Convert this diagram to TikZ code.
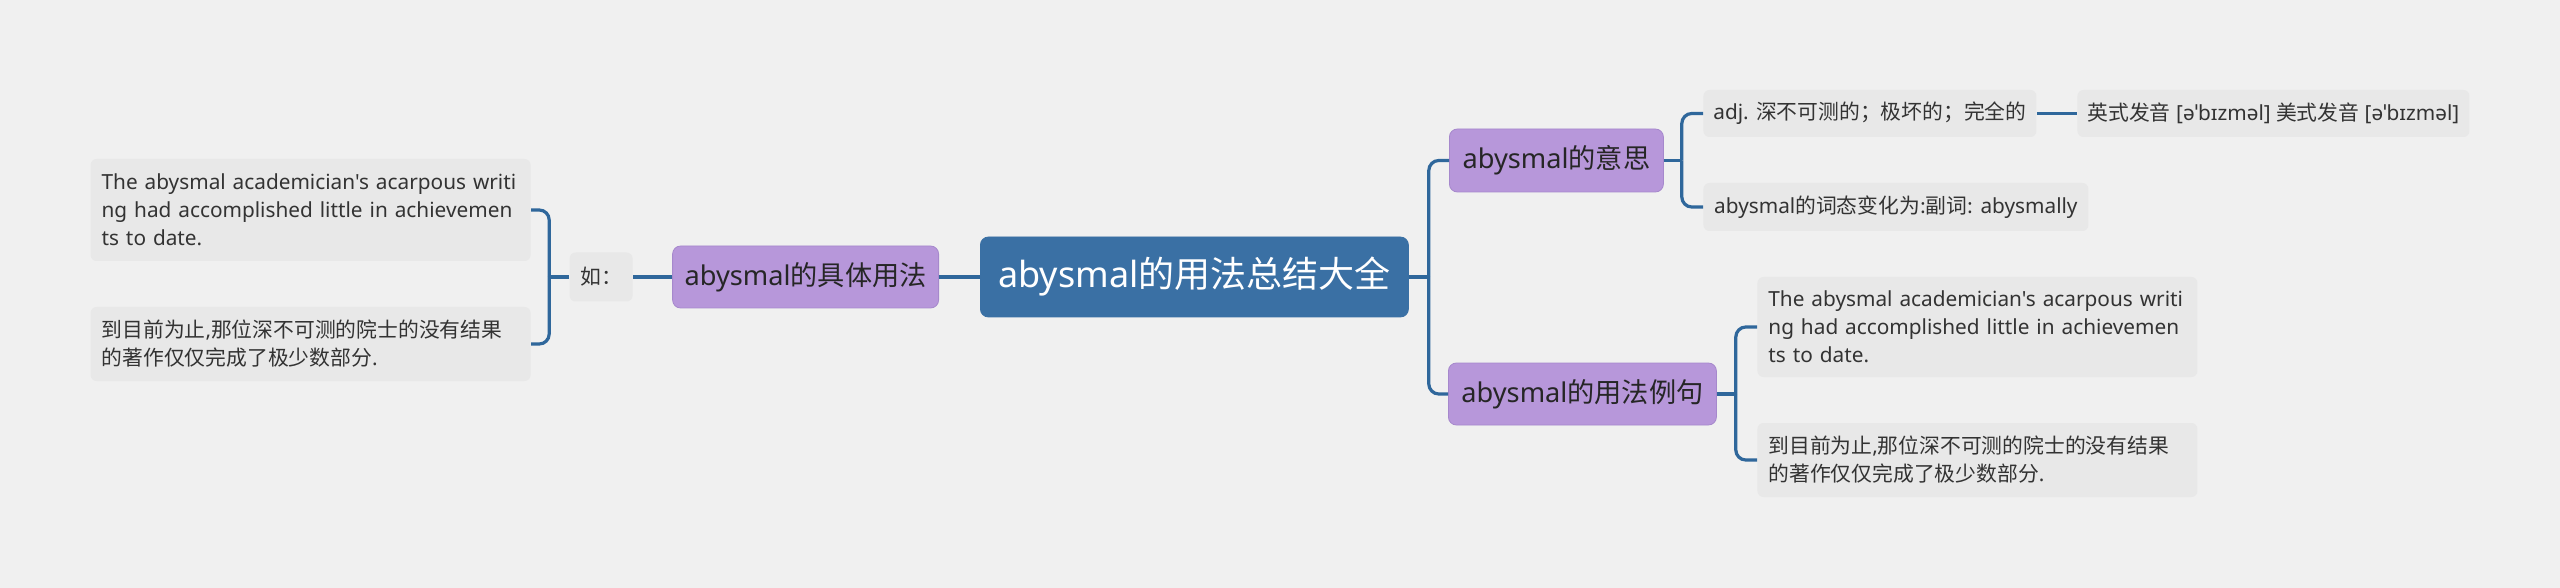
\documentclass[tikz,border=0pt]{standalone}
\usepackage{fontspec}
\setmainfont{Noto Sans}[Ligatures=TeXOff]
\newfontfamily\cjk{Noto Sans CJK SC}
\usetikzlibrary{positioning}
\definecolor{bgcol}{HTML}{F0F0F0}
\definecolor{rootcol}{HTML}{3A70A4}
\definecolor{linkcol}{HTML}{2F679B}
\definecolor{subcol}{HTML}{B797DA}
\definecolor{subline}{HTML}{A688CC}
\definecolor{leafcol}{HTML}{E8E8E8}
\tikzset{
topic/.style = {inner sep=0pt, text centered, anchor=west},
topic_r/.style = {topic, rectangle, rounded corners=4pt, fill=rootcol, draw=rootcol, text=white, font=\fontsize{18}{22}\selectfont},% sujet central
topic_m/.style = {topic, rectangle, rounded corners=4pt, fill=subcol, draw=subline, text=black!85, font=\fontsize{13.6}{16}\selectfont},% sous-sujet violet
topic_l/.style = {topic, rectangle, rounded corners=3pt, fill=leafcol, text=black!80, font=\fontsize{10.4}{14}\selectfont},% feuille grise
topic_t/.style = {topic_l, align=left, text width=209pt, inner xsep=5.5pt},% feuille en plusieurs lignes
link/.style = {draw=linkcol, line width=1.6pt, rounded corners=5pt}
}
\begin{document}
\begin{tikzpicture}[x=0.5pt, y=-0.5pt]
	\fill[bgcol] (0,0) rectangle (2560,588);
	% centre
	\node [topic_r, minimum width=214pt, minimum height=40pt] (root) at (980,277) {abysmal{\cjk 的用法总结大全}};
	% droite
	\node [topic_m, minimum width=107pt, minimum height=31.5pt] (yisi) at (1449,160.5) {abysmal{\cjk 的意思}};
	\node [topic_l, minimum width=166.5pt, minimum height=23.5pt] (adj) at (1703,113.5) {adj. {\cjk 深不可测的；极坏的；完全的}};
	\node [topic_l, minimum width=196pt, minimum height=23.5pt] (fayin) at (2077,113.5) {{\cjk 英式发音} [əˈbɪzməl] {\cjk 美式发音} [əˈbɪzməl]};
	\node [topic_l, minimum width=192.5pt, minimum height=24pt] (citai) at (1703,207) {abysmal{\cjk 的词态变化为:副词:} abysmally};
	\node [topic_m, minimum width=134pt, minimum height=31pt] (liju) at (1448,394) {abysmal{\cjk 的用法例句}};
	\node [topic_t, minimum height=50pt] (rex1) at (1757,327) {The abysmal academician's acarpous writi\\ng had accomplished little in achievemen\\ts to date.};
	\node [topic_t, minimum height=37pt] (rex2) at (1757,460) {{\cjk 到目前为止},{\cjk 那位深不可测的院士的没有结果}\\{\cjk 的著作仅仅完成了极少数部分}.};
	% gauche
	\node [topic_m, minimum width=133pt, minimum height=31pt, anchor=east] (juti) at (939,277) {abysmal{\cjk 的具体用法}};
	\node [topic_l, minimum width=31.5pt, minimum height=24.5pt, anchor=east] (ru) at (633,277) {{\cjk 如：}};
	\node [topic_t, minimum height=51pt, anchor=east] (lex1) at (531,210) {The abysmal academician's acarpous writi\\ng had accomplished little in achievemen\\ts to date.};
	\node [topic_t, minimum height=37pt, anchor=east] (lex2) at (531,344) {{\cjk 到目前为止},{\cjk 那位深不可测的院士的没有结果}\\{\cjk 的著作仅仅完成了极少数部分}.};
	% liens
	\draw [link] (root.east) -- ++(20,0) coordinate (rb);
	\draw [link] (rb) |- (yisi.west);
	\draw [link] (rb) |- (liju.west);
	\draw [link] (yisi.east) -- ++(18,0) coordinate (yb);
	\draw [link] (yb) |- (adj.west);
	\draw [link] (yb) |- (citai.west);
	\draw [link] (adj) -- (fayin);
	\draw [link] (liju.east) -- ++(19,0) coordinate (lb);
	\draw [link] (lb) |- (rex1.west);
	\draw [link] (lb) |- (rex2.west);
	\draw [link] (root) -- (juti);
	\draw [link] (juti) -- (ru);
	\draw [link] (ru.west) -- ++(-20,0) coordinate (gb);
	\draw [link] (gb) |- (lex1.east);
	\draw [link] (gb) |- (lex2.east);
\end{tikzpicture}
\end{document}
